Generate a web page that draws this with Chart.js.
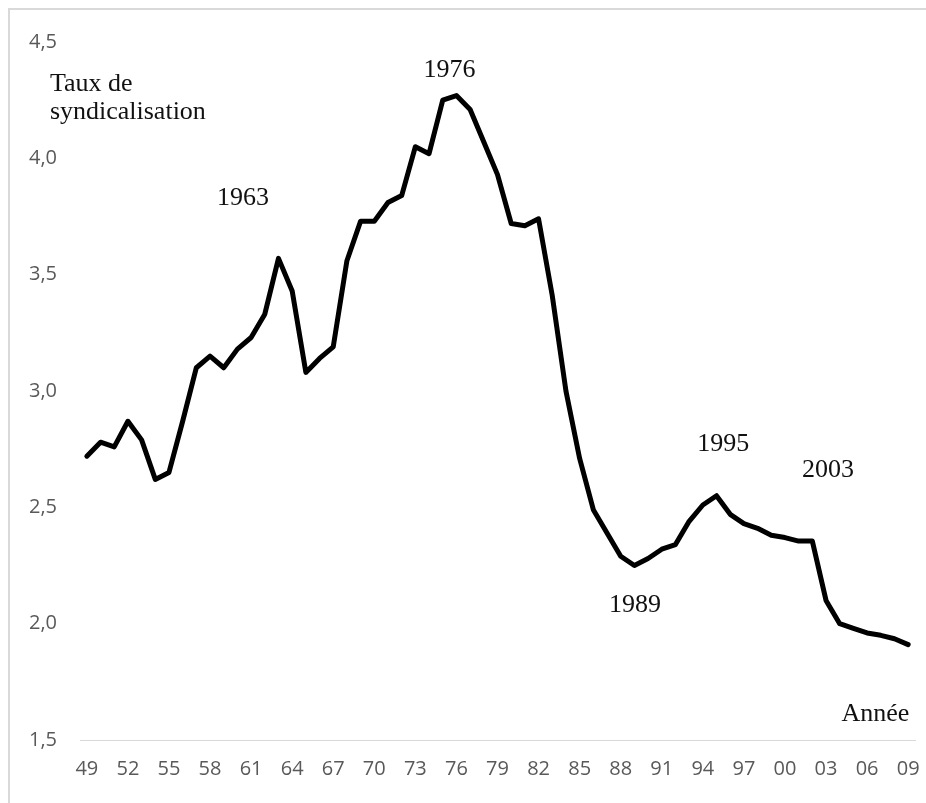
<!DOCTYPE html>
<html lang="fr">
<head>
<meta charset="utf-8">
<title>Taux de syndicalisation</title>
<script src="https://cdn.jsdelivr.net/npm/chart.js@4/dist/chart.umd.min.js"></script>
<style>
  html, body { margin: 0; padding: 0; background: #fff; overflow: hidden; }
  #wrap { position: relative; width: 926px; height: 803px; }
  #graf { display: block; }
  #cadre {
    position: absolute; left: 8px; top: 8px; right: 0; bottom: 0;
    border-top: 2px solid #d9d9d9; border-left: 2px solid #d9d9d9;
    pointer-events: none;
  }
</style>
</head>
<body>
<div id="wrap">
  <canvas id="graf" width="926" height="803"></canvas>
  <div id="cadre"></div>
</div>
<script>
// ------------------------------------------------------
// Données
// ------------------------------------------------------
const annees = [
  1949, 1950, 1951, 1952, 1953, 1954, 1955, 1956, 1957, 1958,
  1959, 1960, 1961, 1962, 1963, 1964, 1965, 1966, 1967, 1968,
  1969, 1970, 1971, 1972, 1973, 1974, 1975, 1976, 1977, 1978,
  1979, 1980, 1981, 1982, 1983, 1984, 1985, 1986, 1987, 1988,
  1989, 1990, 1991, 1992, 1993, 1994, 1995, 1996, 1997, 1998,
  1999, 2000, 2001, 2002, 2003, 2004, 2005, 2006, 2007, 2008,
  2009
];

const tauxSyndicalisation = [
  2.72, 2.78, 2.76, 2.87, 2.79, 2.62, 2.65, 2.87, 3.10, 3.15,
  3.10, 3.18, 3.23, 3.33, 3.57, 3.43, 3.08, 3.14, 3.19, 3.56,
  3.73, 3.73, 3.81, 3.84, 4.05, 4.02, 4.25, 4.27, 4.21, 4.07,
  3.93, 3.72, 3.71, 3.74, 3.41, 3.00, 2.71, 2.49, 2.39, 2.29,
  2.25, 2.28, 2.32, 2.34, 2.44, 2.51, 2.55, 2.47, 2.43, 2.41,
  2.38, 2.37, 2.355, 2.355, 2.10, 2.00, 1.98, 1.96, 1.95, 1.935,
  1.91
];

// graduations de l'axe Y
const yMin = 1.5;
const yMax = 4.5;
const yPas = 0.5;

// une étiquette d'année sur trois
const pasEtiquettes = 3;

// textes posés dans le graphique (année, valeur)
const annotations = [
  { texte: "Taux de", annee: 1946.3, valeur: 4.29, align: "left" },
  { texte: "syndicalisation", annee: 1946.3, valeur: 4.17, align: "left" },
  { texte: "1963", annee: 1960.4, valeur: 3.80, align: "center" },
  { texte: "1976", annee: 1975.5, valeur: 4.35, align: "center" },
  { texte: "1989", annee: 1989.05, valeur: 2.05, align: "center" },
  { texte: "1995", annee: 1995.5, valeur: 2.74, align: "center" },
  { texte: "2003", annee: 2003.15, valeur: 2.63, align: "center" },
  { texte: "Année", annee: 2006.6, valeur: 1.58, align: "center" }
];

// ------------------------------------------------------
// Plugin : textes annotés
// ------------------------------------------------------
const pluginTextes = {
  id: "textes",
  afterDraw(chart) {
    const { ctx, scales } = chart;
    ctx.save();
    ctx.font = "26px 'Liberation Serif', 'Times New Roman', serif";
    ctx.fillStyle = "#111";
    ctx.textBaseline = "alphabetic";
    annotations.forEach(a => {
      const x = scales.x.getPixelForValue(a.annee - annees[0]);
      const y = scales.y.getPixelForValue(a.valeur);
      ctx.textAlign = a.align;
      ctx.fillText(a.texte, x, y);
    });
    ctx.restore();
  }
};

// ------------------------------------------------------
// Graphique
// ------------------------------------------------------
const police = { family: "'Open Sans', sans-serif", size: 20 };

new Chart(document.getElementById("graf"), {
  type: "line",
  data: {
    labels: annees,
    datasets: [{
      label: "Taux de syndicalisation",
      data: tauxSyndicalisation,
      borderColor: "#000",
      borderWidth: 5,
      borderJoinStyle: "round",
      borderCapStyle: "round",
      pointRadius: 0,
      tension: 0,
      fill: false
    }]
  },
  options: {
    responsive: false,
    animation: false,
    events: [],
    layout: { padding: { top: 42, right: 11, bottom: 0, left: 0 } },
    plugins: {
      legend: { display: false },
      tooltip: { enabled: false }
    },
    scales: {
      x: {
        type: "category",
        offset: true,
        grid: { display: false, drawTicks: false },
        border: { display: true, color: "#d9d9d9", width: 1 },
        ticks: {
          autoSkip: false,
          maxRotation: 0,
          padding: 17,
          color: "#595959",
          font: police,
          callback: function (val, i) {
            if (i % pasEtiquettes !== 0) return "";
            return String(this.getLabelForValue(val)).slice(-2);
          }
        },
        afterFit: (s) => {
          s.height = 63;
          s.paddingLeft = 0;
          s.paddingRight = 0;
        }
      },
      y: {
        min: yMin,
        max: yMax,
        grid: { display: false, drawTicks: false },
        border: { display: false },
        ticks: {
          stepSize: yPas,
          padding: 23,
          color: "#595959",
          font: police,
          callback: (v) => v.toFixed(1).replace(".", ",")
        },
        afterFit: (s) => {
          s.width = 80;
          s.paddingTop = 0;
          s.paddingBottom = 0;
        }
      }
    }
  },
  plugins: [pluginTextes]
});
</script>
</body>
</html>
